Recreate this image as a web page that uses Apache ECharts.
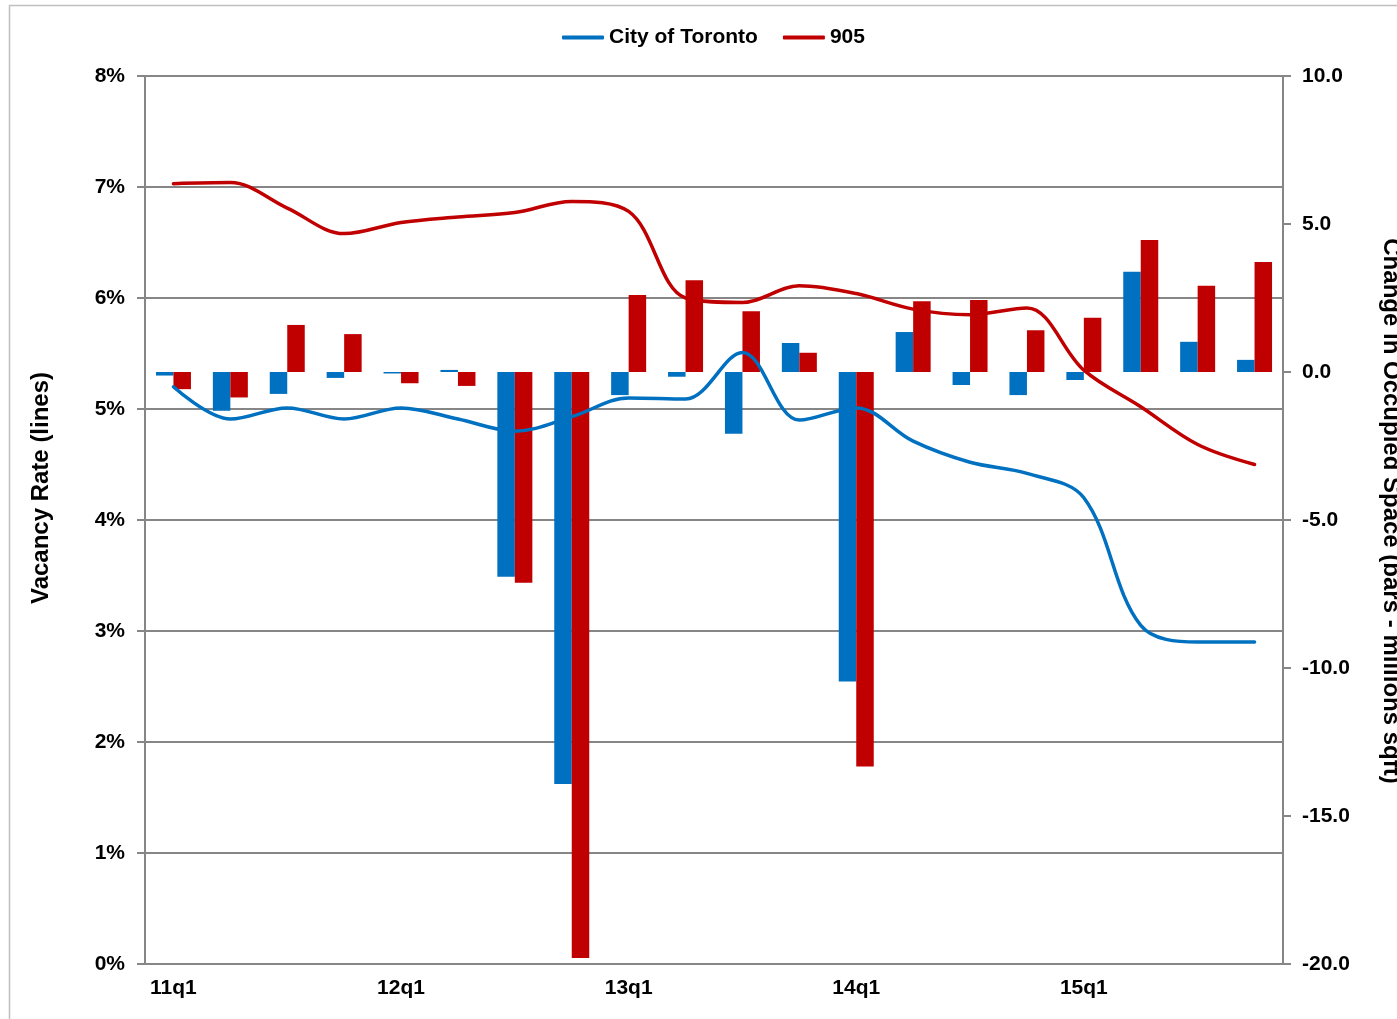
<!DOCTYPE html>
<html>
<head>
<meta charset="utf-8">
<script src="https://cdn.jsdelivr.net/npm/echarts@6/dist/echarts.min.js"></script>
<style>
  html, body { margin: 0; padding: 0; background: #fff; }
  #chart { width: 1397px; height: 1019px; }
</style>
</head>
<body>
<div id="chart"></div>
<script>
// quarters
const quarters = ['11q1', '11q2', '11q3', '11q4', '12q1', '12q2', '12q3', '12q4',
  '13q1', '13q2', '13q3', '13q4', '14q1', '14q2', '14q3', '14q4',
  '15q1', '15q2', '15q3', '15q4'];

// vacancy rate (%), left axis
const torontoVacancy = [5.2, 4.91, 5.01, 4.91, 5.01, 4.91, 4.8, 4.93, 5.1, 5.09,
  5.51, 4.9, 5.01, 4.71, 4.52, 4.42, 4.2, 3.05, 2.9, 2.9];
const gtaVacancy = [7.03, 7.04, 6.81, 6.58, 6.68, 6.73, 6.77, 6.87, 6.78, 6.0,
  5.96, 6.11, 6.04, 5.9, 5.85, 5.91, 5.35, 5.02, 4.68, 4.5];

// change in occupied space (millions sqft), right axis
const torontoChange = [-0.12, -1.31, -0.74, -0.2, -0.05, 0.07, -6.92, -13.92, -0.78, -0.16,
  -2.09, 0.98, -10.46, 1.35, -0.44, -0.78, -0.27, 3.39, 1.02, 0.41];
const gtaChange = [-0.58, -0.86, 1.59, 1.28, -0.38, -0.47, -7.12, -19.8, 2.6, 3.1,
  2.05, 0.65, -13.33, 2.39, 2.43, 1.41, 1.83, 4.46, 2.91, 3.72];

const BLUE = '#0070C0';
const RED = '#C00000';
const GREY = '#868686';
const FONT = 'Liberation Sans, Arial, sans-serif';

const chart = echarts.init(document.getElementById('chart'));

chart.setOption({
  animation: false,
  textStyle: { fontFamily: FONT },
  graphic: [{
    type: 'rect',
    shape: { x: 9.5, y: 5.5, width: 1500, height: 1100 },
    style: { fill: 'none', stroke: '#bfbfbf', lineWidth: 1.5 },
    silent: true
  }],
  legend: {
    data: ['City of Toronto', '905'],
    left: 557,
    top: 22,
    icon: 'roundRect',
    itemWidth: 42,
    itemHeight: 4,
    itemGap: 25,
    textStyle: { fontFamily: FONT, fontSize: 21, fontWeight: 'bold', color: '#000' }
  },
  grid: { left: 145, right: 114, top: 76, bottom: 55, outerBoundsMode: 'none', containLabel: false },
  xAxis: {
    type: 'category',
    data: quarters,
    boundaryGap: true,
    axisLine: { lineStyle: { color: GREY, width: 2 } },
    axisTick: { interval: 3, length: 8, lineStyle: { color: GREY, width: 2 } },
    axisLabel: {
      interval: 3, margin: 14, color: '#000',
      fontFamily: FONT, fontSize: 21, fontWeight: 'bold'
    }
  },
  yAxis: [{
    type: 'value',
    min: 0, max: 8, interval: 1,
    name: 'Vacancy Rate (lines)',
    nameLocation: 'middle',
    nameGap: 92,
    nameTextStyle: {
      fontFamily: FONT, fontSize: 24, fontWeight: 'bold', color: '#000',
      padding: [0, 0, 0, 64]
    },
    axisLine: { show: true, lineStyle: { color: GREY, width: 2 } },
    axisTick: { show: true, length: 8, lineStyle: { color: GREY, width: 2 } },
    axisLabel: {
      formatter: '{value}%', margin: 20, color: '#000',
      fontFamily: FONT, fontSize: 21, fontWeight: 'bold'
    },
    splitLine: { lineStyle: { color: GREY, width: 2 } }
  }, {
    type: 'value',
    position: 'right',
    min: -20, max: 10, interval: 5,
    name: 'Change in Occupied Space (bars - millions sqft)',
    nameLocation: 'middle',
    nameGap: 96,
    nameRotate: -90,
    nameTextStyle: {
      fontFamily: FONT, fontSize: 24, fontWeight: 'bold', color: '#000',
      padding: [0, 18, 0, 0]
    },
    axisLine: { show: true, lineStyle: { color: GREY, width: 2 } },
    axisTick: { show: true, length: 8, lineStyle: { color: GREY, width: 2 } },
    axisLabel: {
      formatter: v => v.toFixed(1), margin: 19, color: '#000',
      fontFamily: FONT, fontSize: 21, fontWeight: 'bold'
    },
    splitLine: { show: false }
  }],
  series: [{
    name: 'City of Toronto (change)',
    type: 'bar',
    yAxisIndex: 1,
    data: torontoChange,
    barWidth: 17.5,
    barGap: '0%',
    itemStyle: { color: BLUE }
  }, {
    name: '905 (change)',
    type: 'bar',
    yAxisIndex: 1,
    data: gtaChange,
    barWidth: 17.5,
    barGap: '0%',
    itemStyle: { color: RED }
  }, {
    name: 'City of Toronto',
    type: 'line',
    yAxisIndex: 0,
    data: torontoVacancy,
    smooth: 0.35,
    showSymbol: false,
    symbol: 'none',
    lineStyle: { color: BLUE, width: 3.5, cap: 'round' },
    itemStyle: { color: BLUE },
    z: 5
  }, {
    name: '905',
    type: 'line',
    yAxisIndex: 0,
    data: gtaVacancy,
    smooth: 0.35,
    showSymbol: false,
    symbol: 'none',
    lineStyle: { color: RED, width: 3.5, cap: 'round' },
    itemStyle: { color: RED },
    z: 5
  }]
});
</script>
</body>
</html>
